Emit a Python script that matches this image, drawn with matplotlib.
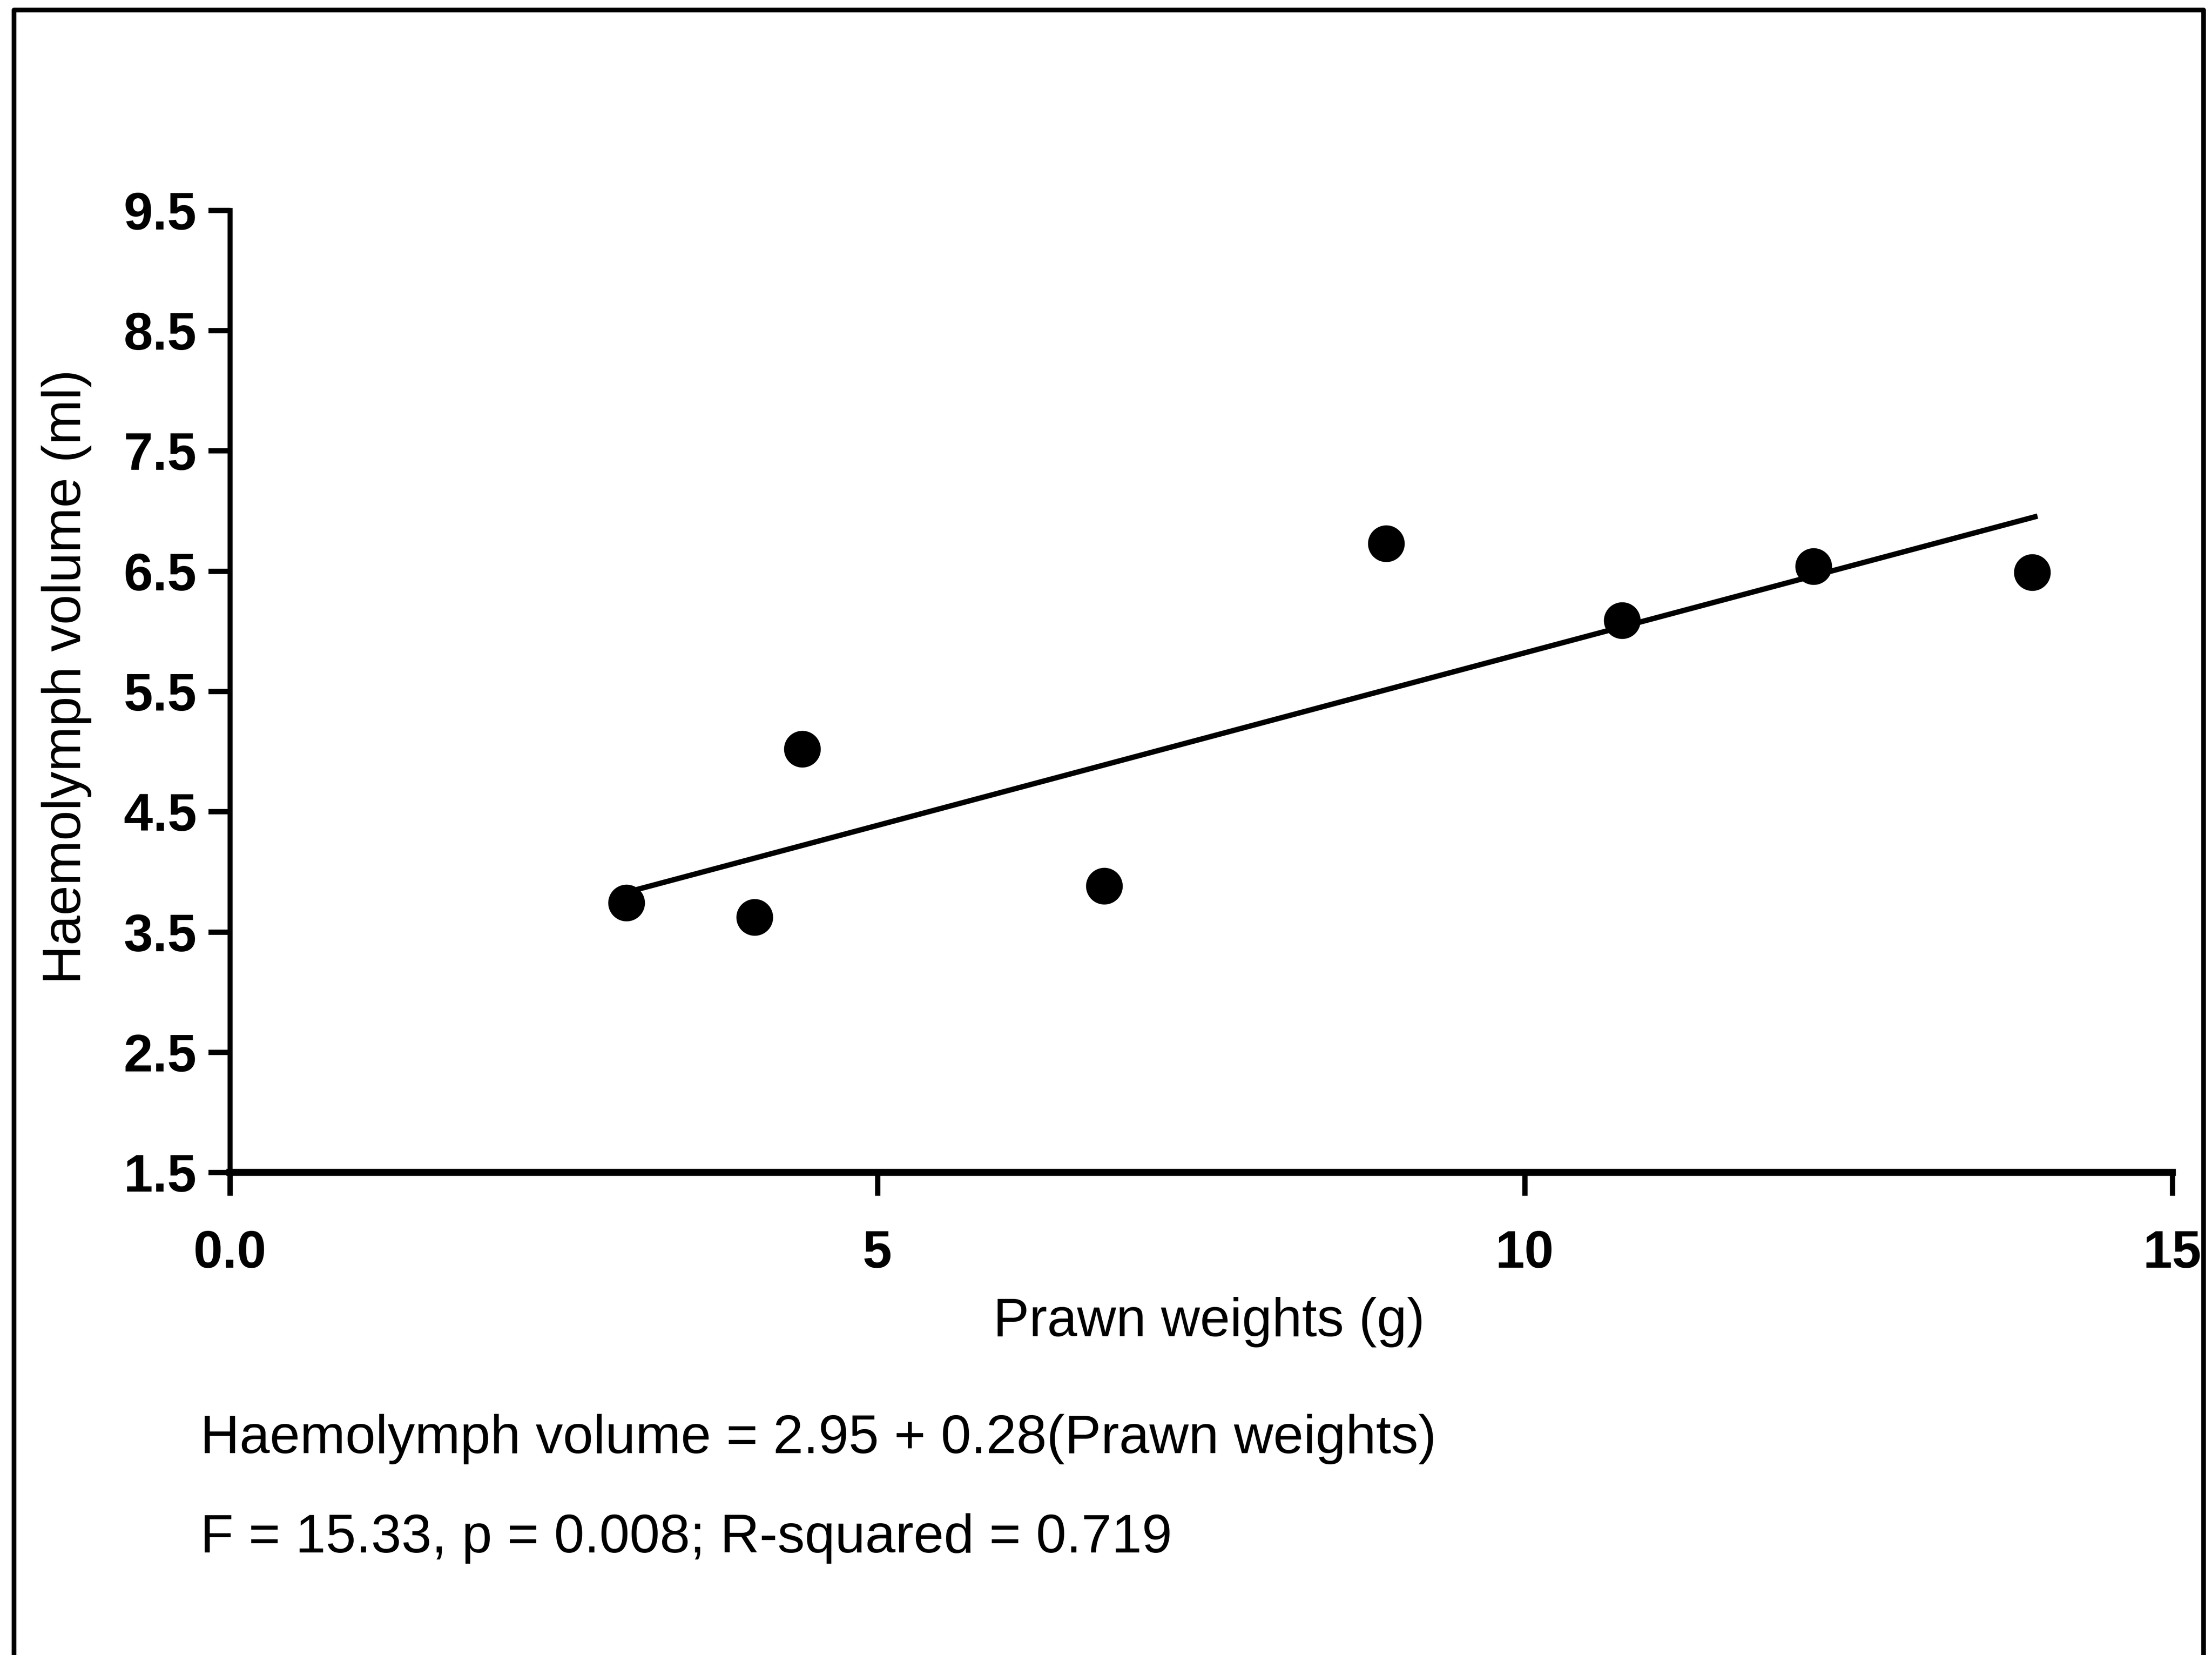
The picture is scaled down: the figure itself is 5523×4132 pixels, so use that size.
import matplotlib
matplotlib.use("Agg")
import matplotlib.pyplot as plt
from matplotlib.lines import Line2D
import numpy as np

# ---- data ----
prawn_weight = [3.06, 4.05, 4.42, 6.75, 8.93, 10.75, 12.23, 13.92]
haemolymph_volume = [3.74, 3.62, 5.02, 3.88, 6.73, 6.09, 6.54, 6.49]
fit_intercept = 2.95
fit_slope = 0.287
fit_x_range = [3.06, 13.94]
x_ticks = [0, 5, 10, 15]
x_ticklabels = ["0.0", "5", "10", "15"]
y_ticks = [1.5, 2.5, 3.5, 4.5, 5.5, 6.5, 7.5, 8.5, 9.5]
y_ticklabels = ["1.5", "2.5", "3.5", "4.5", "5.5", "6.5", "7.5", "8.5", "9.5"]
x_label = "Prawn weights (g)"
y_label = "Haemolymph volume (ml)"
eq_text = "Haemolymph volume = 2.95 + 0.28(Prawn weights)"
stat_text = "F = 15.33, p = 0.008; R-squared = 0.719"

plt.rcParams['font.family'] = ['Liberation Sans', 'DejaVu Sans']

W, H = 5523, 4132
DPI = 300
fig = plt.figure(figsize=(W / DPI, H / DPI), dpi=DPI)
fig.patch.set_facecolor("white")

ax = fig.add_axes([0.104, 0.2916, 0.982 - 0.104, 0.873 - 0.2916])
ax.set_xlim(0, 15)
ax.set_ylim(1.5, 9.5)
for s in ["top", "right"]:
    ax.spines[s].set_visible(False)
ax.spines["left"].set_linewidth(3.0)
ax.spines["bottom"].set_linewidth(4.2)
ax.spines["left"].set_capstyle("projecting")
ax.spines["bottom"].set_capstyle("projecting")

ax.set_xticks(x_ticks)
ax.set_xticklabels(x_ticklabels, fontsize=31.5, fontweight="bold")
ax.set_yticks(y_ticks)
ax.set_yticklabels(y_ticklabels, fontsize=31.5, fontweight="bold")
ax.tick_params(axis="y", direction="out", length=13, width=3.2, pad=7)
ax.tick_params(axis="x", direction="out", length=14, width=3.2, pad=20)

ax.scatter(prawn_weight, haemolymph_volume, s=21**2, color="black", zorder=3,
           clip_on=False)
fx = np.array(fit_x_range)
ax.plot(fx, fit_intercept + fit_slope * fx, color="black", lw=3.2, zorder=2)

fig.text(0.5466, 0.2012, x_label, ha="center", va="center", fontsize=32.3)
fig.text(0.030, 0.591, y_label, ha="center", va="center", rotation=90, fontsize=32.3)
fig.text(0.0906, 0.1305, eq_text, ha="left", va="center", fontsize=32.6)
fig.text(0.0906, 0.0705, stat_text, ha="left", va="center", fontsize=32.6)

# outer frame (left, top, right; open at bottom)
fx0, fx1, fy1 = 10 / 1568, 1562 / 1568, 1 - 7 / 1173
fig.add_artist(Line2D([fx0, fx0, fx1, fx1], [0, fy1, fy1, 0],
                      transform=fig.transFigure, color="black", lw=2.8))

fig.savefig("out.png", dpi=DPI, facecolor="white")
